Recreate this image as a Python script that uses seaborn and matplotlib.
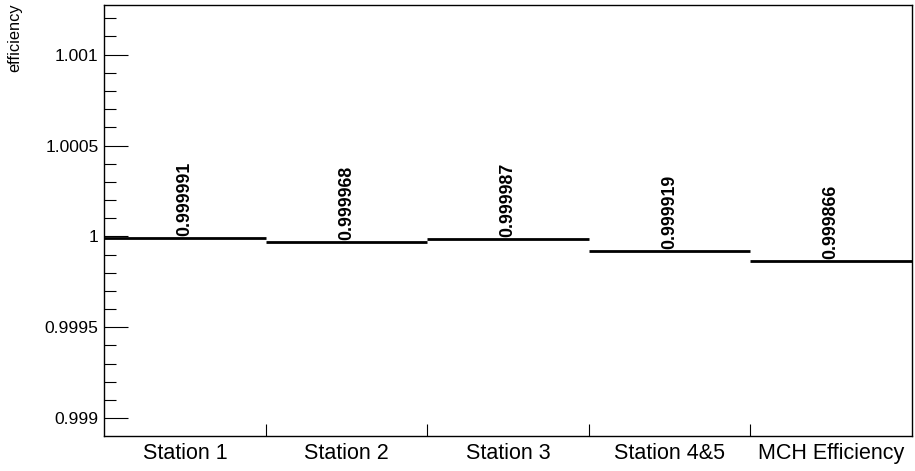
import numpy as np
import matplotlib
matplotlib.use("Agg")
import matplotlib.pyplot as plt
import seaborn as sns
from matplotlib.ticker import MultipleLocator, FixedLocator

# efficiency per station
stations = ["Station 1", "Station 2", "Station 3", "Station 4&5", "MCH Efficiency"]
efficiency = [0.999991, 0.999968, 0.999987, 0.999919, 0.999866]
labels = ["0.999991", "0.999968", "0.999987", "0.999919", "0.999866"]

sns.set_theme(style="ticks")
plt.rcParams["font.family"] = ["Liberation Sans", "DejaVu Sans"]
plt.rcParams["text.color"] = "black"
plt.rcParams["xtick.color"] = "black"
plt.rcParams["ytick.color"] = "black"
plt.rcParams["xtick.labelcolor"] = "black"
plt.rcParams["ytick.labelcolor"] = "black"

fig = plt.figure(figsize=(9.15, 4.71), dpi=100)
ax = fig.add_axes([0.1137, 0.0743, 0.883, 0.9151])

edges = np.arange(len(stations) + 1)
centers = edges[:-1] + 0.5

# histogram-like horizontal bars
ax.hlines(efficiency, edges[:-1], edges[1:], color="black", lw=2)
for c, v, t in zip(centers, efficiency, labels):
    ax.annotate(t, (c, v), xytext=(0, 1.5), textcoords="offset points",
                rotation=90, ha="center", va="bottom", color="black",
                fontsize=12.8, fontweight="bold")

ax.set_xlim(0, len(stations))
ax.set_ylim(0.998902, 1.001273)

ax.set_xticks(centers)
ax.set_xticklabels(stations, fontsize=15.5)
ax.xaxis.set_minor_locator(FixedLocator(edges[1:-1]))
ax.tick_params(axis="x", which="major", length=0, pad=5)
ax.tick_params(axis="x", which="minor", length=8.6, width=0.8, direction="in", color="black")

ax.yaxis.set_major_locator(MultipleLocator(0.0005))
ax.yaxis.set_minor_locator(MultipleLocator(0.0001))
ax.set_yticks([0.999, 0.9995, 1.0, 1.0005, 1.001])
ax.set_yticklabels(["0.999", "0.9995", "1", "1.0005", "1.001"], fontsize=12.6)
ax.tick_params(axis="y", which="major", length=17, width=0.8, direction="in", pad=4, color="black")
ax.tick_params(axis="y", which="minor", length=8.6, width=0.8, direction="in", color="black")

for s in ax.spines.values():
    s.set_visible(True)
    s.set_linewidth(1.0)
    s.set_color("black")

fig.text(0.016, 0.993, "efficiency", rotation=90, ha="center", va="top",
         fontsize=11.8, color="black")

fig.savefig("out.png", dpi=100, facecolor="white")
